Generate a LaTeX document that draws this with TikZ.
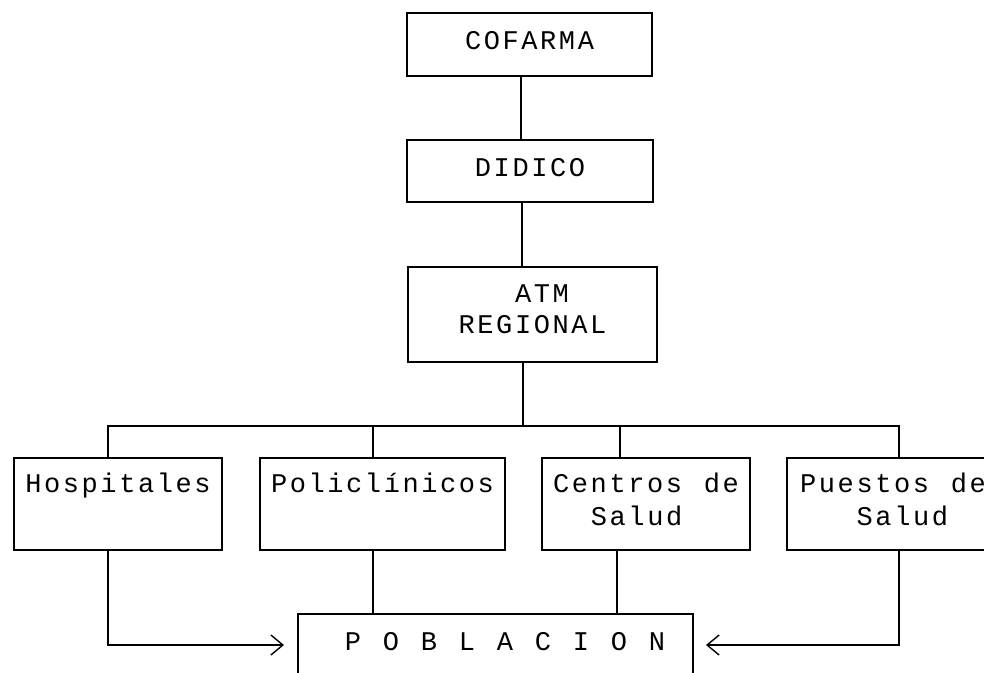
\documentclass[tikz,border=0pt]{standalone}
\usepackage{fontspec}
\newfontfamily\dm[LetterSpace=9.6,WordSpace=1.16]{Liberation Mono}
\usetikzlibrary{arrows.meta}
\begin{document}
\begin{tikzpicture}[x=1pt,y=-1pt,
  box/.style={draw,line width=2pt,inner sep=0pt,align=center,
    font={\dm\fontsize{27}{31}\selectfont},text height=18pt},
  rowbox/.style={box,minimum width=208pt,minimum height=92pt,text depth=42pt,
    font={\dm\fontsize{27}{33}\selectfont}},
  tworow/.style={text height=51pt,text depth=9pt},
  link/.style={line width=2pt},
  arr/.style={line width=2pt,-{Straight Barb[length=12pt,width=20pt,line width=1.4pt]}}]
\useasboundingbox (0,0) rectangle (984,672);
\clip (0,0) rectangle (984,672);
\fill[white] (0,0) rectangle (984,672);
% top chain
\node[box,minimum width=245pt,minimum height=63pt,text depth=9pt] (cof) at (529.5,44.5) {COFARMA};
\node[box,minimum width=246pt,minimum height=62pt,text depth=8pt] (did) at (530,171) {DIDICO};
\node[box,minimum width=249pt,minimum height=95pt,text height=49pt,text depth=12pt] (atm) at (532.5,314.5) {\hspace*{18.8pt}ATM\\REGIONAL};
% row
\node[rowbox] (hos) at (118,504) {Hospitales};
\node[rowbox,minimum width=245pt] (pol) at (382.5,504) {Policlínicos};
\node[rowbox,tworow] (cen) at (646,504) {Centros de\\Salud\hspace*{18.8pt}};
\node[rowbox,tworow,minimum width=212pt] (pue) at (893,504) {Puestos de\\\hspace*{18.8pt}Salud};
% bottom
\node[box,minimum width=395pt,minimum height=62pt,text depth=8pt] (pob) at (495.5,645) {\hspace*{18.8pt}P O B L A C I O N};
% connectors
\draw[link] ([xshift=-9pt]cof.south) -- ([xshift=-9pt]cof.south |- did.north);
\draw[link] ([xshift=-8pt]did.south) -- ([xshift=-8pt]did.south |- atm.north);
\coordinate (bus) at ([xshift=-9.5pt]atm.south |- 0,426);
\draw[link] ([xshift=-9.5pt]atm.south) -- (bus);
\draw[link] ([xshift=-10pt]hos.north) |- (bus) -| ([xshift=6pt]pue.north);
\draw[link] ([xshift=-9.5pt]pol.north) -- ([xshift=-9.5pt]pol.north |- bus);
\draw[link] ([xshift=-26pt]cen.north) -- ([xshift=-26pt]cen.north |- bus);
\draw[link] ([xshift=-9.5pt]pol.south) -- ([xshift=-9.5pt]pol.south |- pob.north);
\draw[link] ([xshift=-29pt]cen.south) -- ([xshift=-29pt]cen.south |- pob.north);
\draw[arr] ([xshift=-10pt]hos.south) |- ([xshift=-13pt]pob.west);
\draw[arr] ([xshift=6pt]pue.south) |- ([xshift=12pt]pob.east);
\end{tikzpicture}
\end{document}
